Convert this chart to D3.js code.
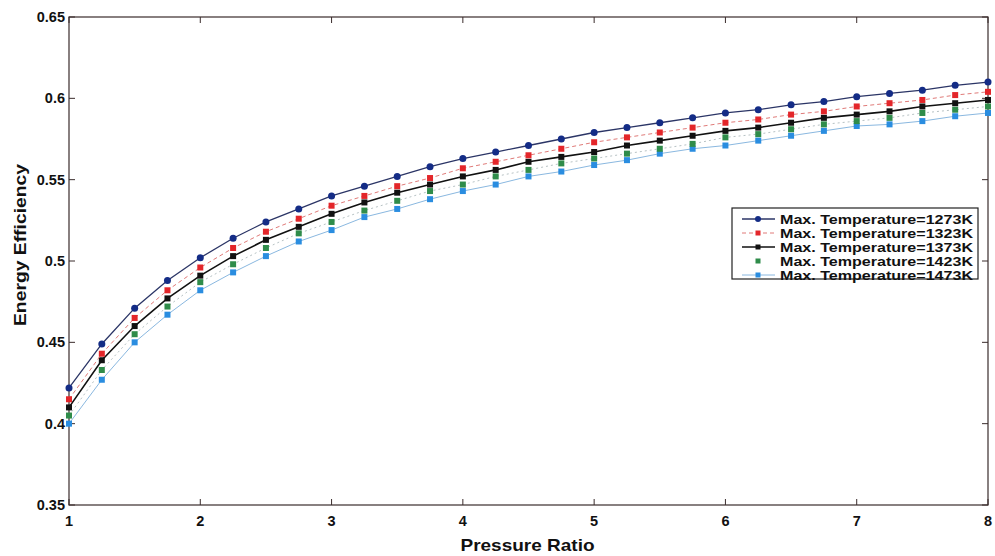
<!DOCTYPE html>
<html>
<head>
<meta charset="utf-8">
<script src="https://cdn.jsdelivr.net/npm/d3@7"></script>
<style>
  body { margin: 0; background: #fff; }
  svg text { font-family: "Liberation Sans", Arial, sans-serif; font-weight: bold; fill: #111; }
</style>
</head>
<body>
<div id="chart"></div>
<script>
// pressure ratio steps
const pressureRatio = [1, 1.25, 1.5, 1.75, 2, 2.25, 2.5, 2.75, 3, 3.25, 3.5, 3.75, 4, 4.25, 4.5, 4.75,
    5, 5.25, 5.5, 5.75, 6, 6.25, 6.5, 6.75, 7, 7.25, 7.5, 7.75, 8];

const eff1273 = [0.422, 0.449, 0.471, 0.488, 0.502, 0.514, 0.524, 0.532, 0.540, 0.546, 0.552, 0.558, 0.563, 0.567, 0.571,
    0.575, 0.579, 0.582, 0.585, 0.588, 0.591, 0.593, 0.596, 0.598, 0.601, 0.603, 0.605, 0.608, 0.610];
const eff1323 = [0.415, 0.443, 0.465, 0.482, 0.496, 0.508, 0.518, 0.526, 0.534, 0.540, 0.546, 0.551, 0.557, 0.561, 0.565,
    0.569, 0.573, 0.576, 0.579, 0.582, 0.585, 0.587, 0.590, 0.592, 0.595, 0.597, 0.599, 0.602, 0.604];
const eff1373 = [0.410, 0.439, 0.460, 0.477, 0.491, 0.503, 0.513, 0.521, 0.529, 0.536, 0.542, 0.547, 0.552, 0.556, 0.561,
    0.564, 0.567, 0.571, 0.574, 0.577, 0.580, 0.582, 0.585, 0.588, 0.590, 0.592, 0.595, 0.597, 0.599];
const eff1423 = [0.405, 0.433, 0.455, 0.472, 0.487, 0.498, 0.508, 0.517, 0.524, 0.531, 0.537, 0.543, 0.547, 0.552, 0.556,
    0.560, 0.563, 0.566, 0.569, 0.572, 0.576, 0.578, 0.581, 0.584, 0.586, 0.588, 0.591, 0.593, 0.595];
const eff1473 = [0.400, 0.427, 0.450, 0.467, 0.482, 0.493, 0.503, 0.512, 0.519, 0.527, 0.532, 0.538, 0.543, 0.547, 0.552,
    0.555, 0.559, 0.562, 0.566, 0.569, 0.571, 0.574, 0.577, 0.580, 0.583, 0.584, 0.586, 0.589, 0.591];

const seriesNames = ["Max. Temperature=1273K", "Max. Temperature=1323K", "Max. Temperature=1373K",
    "Max. Temperature=1423K", "Max. Temperature=1473K"];
const xTicks = [1, 2, 3, 4, 5, 6, 7, 8];
const yTicks = [0.35, 0.4, 0.45, 0.5, 0.55, 0.6, 0.65];

const styles = [
    { line: "#2b3566", width: 1.3, dash: null, marker: "#142c86", shape: "circle" },
    { line: "#e07a78", width: 1, dash: "4,3", marker: "#e3262a", shape: "square" },
    { line: "#111", width: 1.6, dash: null, marker: "#111", shape: "square" },
    { line: "#b7c2c4", width: 1, dash: "2,3", marker: "#2f8c4a", shape: "square" },
    { line: "#8ab8e0", width: 1, dash: null, marker: "#2a8de0", shape: "square" }
];

const series = [eff1273, eff1323, eff1373, eff1423, eff1473].map((vals, i) => ({
    name: seriesNames[i],
    style: styles[i],
    points: vals.map((v, j) => ({ x: pressureRatio[j], y: v }))
}));

const W = 995, H = 556;
const margin = { top: 17, right: 7, bottom: 51, left: 69 };
const width = W - margin.left - margin.right,
    height = H - margin.top - margin.bottom;

const svg = d3.select("#chart").append("svg")
    .attr("width", W)
    .attr("height", H);

const g = svg.append("g")
    .attr("transform", "translate(" + margin.left + "," + margin.top + ")");

const x = d3.scaleLinear().domain([1, 8]).range([0, width]);
const y = d3.scaleLinear().domain([0.35, 0.65]).range([height, 0]);

const axisColor = "#3a2c2c";

// frame
g.append("rect")
    .attr("width", width)
    .attr("height", height)
    .attr("fill", "none")
    .attr("stroke", axisColor)
    .attr("stroke-width", 1.2);

// ticks (inward, all four sides)
const tickLen = 6;
g.append("g").selectAll("line.xb")
    .data(xTicks)
    .enter().append("line")
    .attr("x1", d => x(d)).attr("x2", d => x(d))
    .attr("y1", height).attr("y2", height - tickLen)
    .attr("stroke", axisColor);
g.append("g").selectAll("line.xt")
    .data(xTicks)
    .enter().append("line")
    .attr("x1", d => x(d)).attr("x2", d => x(d))
    .attr("y1", 0).attr("y2", tickLen)
    .attr("stroke", axisColor);
g.append("g").selectAll("line.yl")
    .data(yTicks)
    .enter().append("line")
    .attr("x1", 0).attr("x2", tickLen)
    .attr("y1", d => y(d)).attr("y2", d => y(d))
    .attr("stroke", axisColor);
g.append("g").selectAll("line.yr")
    .data(yTicks)
    .enter().append("line")
    .attr("x1", width).attr("x2", width - tickLen)
    .attr("y1", d => y(d)).attr("y2", d => y(d))
    .attr("stroke", axisColor);

// tick labels
g.append("g").selectAll("text")
    .data(xTicks)
    .enter().append("text")
    .attr("x", d => x(d))
    .attr("y", height + 21)
    .attr("text-anchor", "middle")
    .style("font-size", "14.5px")
    .text(d => d);

g.append("g").selectAll("text")
    .data(yTicks)
    .enter().append("text")
    .attr("x", -4)
    .attr("y", d => y(d) + 5)
    .attr("text-anchor", "end")
    .style("font-size", "14.5px")
    .text(d => d3.format("")(+d.toFixed(2)));

// axis titles
g.append("text")
    .attr("x", width / 2 - 1)
    .attr("y", height + 46)
    .attr("text-anchor", "middle")
    .attr("textLength", 134)
    .attr("lengthAdjust", "spacingAndGlyphs")
    .style("font-size", "17px")
    .text("Pressure Ratio");

g.append("text")
    .attr("transform", "translate(" + [-43, height / 2 - 16] + ") rotate(-90)")
    .attr("text-anchor", "middle")
    .attr("textLength", 162)
    .attr("lengthAdjust", "spacingAndGlyphs")
    .style("font-size", "17px")
    .text("Energy Efficiency");

const line = d3.line()
    .x(d => x(d.x))
    .y(d => y(d.y));

function drawMarker(sel, st, size) {
    if (st.shape === "circle") {
        sel.append("circle").attr("r", size / 2 + 0.5).attr("fill", st.marker);
    } else {
        sel.append("rect")
            .attr("x", -size / 2).attr("y", -size / 2)
            .attr("width", size).attr("height", size)
            .attr("fill", st.marker);
    }
}

// draw from last series to first so the top curve sits on top
series.slice().reverse().forEach(s => {
    const sg = g.append("g");
    sg.append("path")
        .attr("d", line(s.points))
        .attr("fill", "none")
        .attr("stroke", s.style.line)
        .attr("stroke-width", s.style.width)
        .attr("stroke-dasharray", s.style.dash);
    sg.selectAll("g.pt")
        .data(s.points)
        .enter().append("g")
        .attr("transform", d => "translate(" + x(d.x) + "," + y(d.y) + ")")
        .each(function() { drawMarker(d3.select(this), s.style, 6); });
});

// legend
const legend = svg.append("g").attr("transform", "translate(732,208)");
legend.append("rect")
    .attr("width", 246)
    .attr("height", 71)
    .attr("fill", "#fff")
    .attr("stroke", "#222")
    .attr("stroke-width", 1.2);

series.forEach((s, i) => {
    const row = legend.append("g").attr("transform", "translate(0," + (11 + i * 14) + ")");
    if (i !== 3) {
        row.append("line")
            .attr("x1", 10).attr("x2", 43)
            .attr("stroke", s.style.line)
            .attr("stroke-width", s.style.width)
            .attr("stroke-dasharray", s.style.dash);
    }
    const m = row.append("g").attr("transform", "translate(26,0)");
    drawMarker(m, s.style, 5);
    row.append("text")
        .attr("x", 48)
        .attr("y", 4.5)
        .attr("textLength", 193)
        .attr("lengthAdjust", "spacingAndGlyphs")
        .style("font-size", "12px")
        .text(s.name);
});
</script>
</body>
</html>
